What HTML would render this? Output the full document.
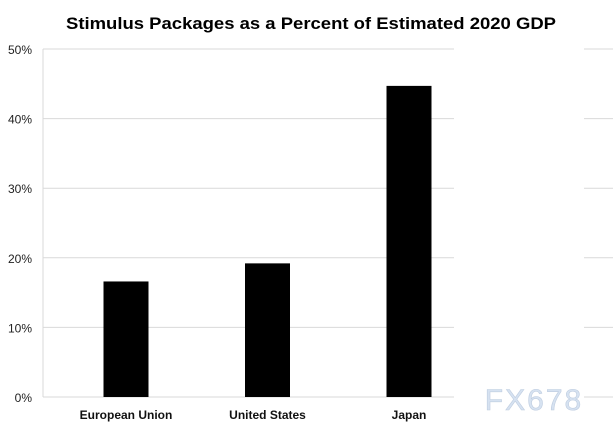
<!DOCTYPE html>
<html><head><meta charset="utf-8"><style>
html,body{margin:0;padding:0;background:#fff;}
svg{display:block;font-family:"Liberation Sans",sans-serif;}
</style></head><body>
<svg id="chart" width="613" height="435" viewBox="0 0 613 435">
<text x="311" y="29" text-anchor="middle" font-size="17" font-weight="bold" textLength="490" lengthAdjust="spacingAndGlyphs">Stimulus Packages as a Percent of Estimated 2020 GDP</text>
<g id="grid"></g>
<g id="yticks"></g>
<g id="bars"></g>
<g id="xlabels"></g>
<rect x="454" y="40" width="130" height="395" fill="#fff"/>
<text x="534" y="410" text-anchor="middle" font-size="30" fill="#d6e2f1" stroke="#bfcde0" stroke-width="0.6" letter-spacing="2">FX678</text>
</svg>
<script>
const categories = ["European Union","United States","Japan"];
const values = [16.6, 19.2, 44.7];
const yTicks = [0,10,20,30,40,50];
const yTickLabels = ["0%","10%","20%","30%","40%","50%"];
const ns="http://www.w3.org/2000/svg";
const x0=43, x1=613, yBase=397, yTop=49, yMax=50;
const y=v=>yBase-(v/yMax)*(yBase-yTop);
const slot=141.5, barW=45, firstCenter=126;
const cx=i=>firstCenter+i*slot;
function mk(t,a){const e=document.createElementNS(ns,t);for(const k in a)e.setAttribute(k,a[k]);return e;}
const grid=document.getElementById('grid'),yt=document.getElementById('yticks'),bars=document.getElementById('bars'),xl=document.getElementById('xlabels');
yTicks.forEach((v,i)=>{
  const l=mk('line',{x1:x0,x2:x1,y1:y(v),y2:y(v),stroke:'#d9d9d9','stroke-width':1});
  
  
  grid.appendChild(l);
  const t=mk('text',{x:32,y:y(v)+5,'text-anchor':'end','font-size':12,fill:'#222'});
  
  
  t.textContent=yTickLabels[i];yt.appendChild(t);
});
const ax=mk('line',{x1:x0,x2:x0,y1:yTop,y2:yBase,stroke:'#d9d9d9'});


grid.appendChild(ax);
values.forEach((v,i)=>{
  const r=mk('rect',{x:cx(i)-barW/2,y:y(v),width:barW,height:yBase-y(v),fill:'#000'});
  
  
  bars.appendChild(r);
  const t=mk('text',{x:cx(i),y:419,'text-anchor':'middle','font-size':12,'font-weight':'bold',fill:'#111'});
  
  
  t.textContent=categories[i];xl.appendChild(t);
});
</script>
</body></html>
